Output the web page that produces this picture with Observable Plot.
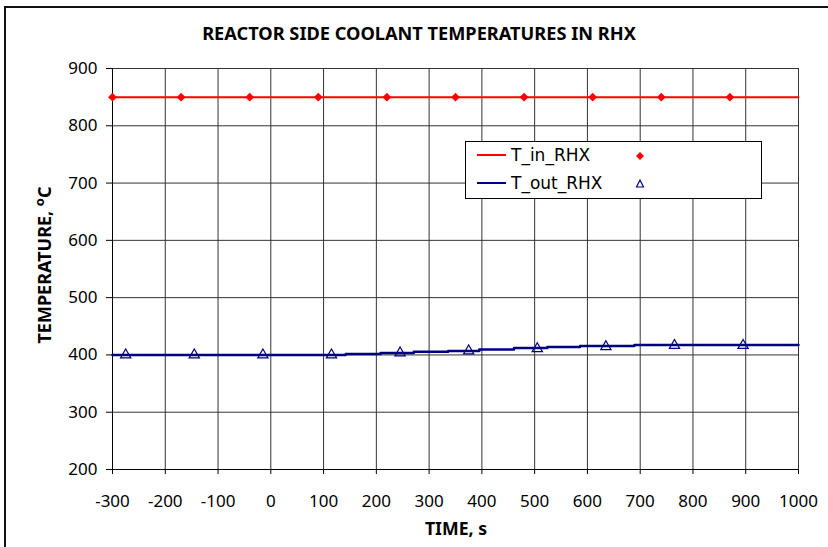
<!DOCTYPE html>
<html><head><meta charset="utf-8">
<script src="https://cdn.jsdelivr.net/npm/d3@7"></script>
<script src="https://cdn.jsdelivr.net/npm/@observablehq/plot@0.6"></script>
<style>
body{margin:0;background:#fff;}
#wrap{position:relative;width:828px;height:547px;overflow:hidden;font-family:"Noto Sans",sans-serif;color:#000;}
#border{position:absolute;left:4px;top:6px;width:840px;height:580px;border:2px solid #111;box-sizing:border-box;pointer-events:none;}
#chart{position:absolute;left:0;top:0;}
#title{position:absolute;left:0;width:838px;top:21px;text-align:center;font-weight:bold;font-size:18.2px;line-height:25px;}
#xlabel{position:absolute;left:356px;width:200px;top:516px;text-align:center;font-weight:bold;font-size:17.7px;line-height:25px;}
#ylabel{position:absolute;left:45px;top:265px;transform:translate(-50%,-50%) rotate(-90deg);white-space:nowrap;font-weight:bold;font-size:18px;line-height:25px;}
#ylabel .sup{position:relative;top:-7px;font-size:13px;}
#legend{position:absolute;left:465px;top:141px;width:297px;height:58px;border:1px solid #000;background:#fff;box-sizing:border-box;font-family:"DejaVu Sans",sans-serif;font-size:17px;}
.row{position:absolute;left:0;height:20px;width:100%;}
.sw{position:absolute;left:11px;top:7px;width:29px;height:0;border-top:2px solid;}
.lab{position:absolute;left:45px;top:-2px;line-height:20px;}
.mk{position:absolute;left:168px;top:-1px;}
</style></head>
<body>
<div id="wrap">
  <div id="chart"></div>
  <div id="border"></div>
  <div id="title"></div>
  <div id="xlabel"></div>
  <div id="ylabel"></div>
  <div id="legend"></div>
</div>
<script>
// ---- data ----
const titleText = "REACTOR SIDE COOLANT TEMPERATURES IN RHX";
const xLabelText = "TIME, s";
const yLabelMain = "TEMPERATURE, ";
const yLabelSup = "o";
const yLabelUnit = "C";
const seriesNames = ["T_in_RHX", "T_out_RHX"];
const xTicks = [-300,-200,-100,0,100,200,300,400,500,600,700,800,900,1000];
const yTicks = [200,300,400,500,600,700,800,900];

const tInTime = [-300, 1000];
const tInTemp = [850, 850];
const tInMarkTime = [-300,-170,-40,90,220,350,480,610,740,870];
const tInMarkTemp = [850,850,850,850,850,850,850,850,850,850];

const tOutTime = [-300,142,208,271,336,395,461,524,586,689,1000];
const tOutTemp = [400,401.5,403.5,405.5,407,409.5,412,414,415.5,417.5,417.5];
const tOutMarkTime = [-275,-145,-15,115,245,375,505,635,765,895];
const tOutMarkTemp = [400,400,400,400,403.5,407,411,414.5,416.5,416.5];

const colors = ["#ff0000", "#000080"];

// ---- build ----
const zip = (xs, ys) => xs.map((x, i) => ({x, y: ys[i]}));
const inLine = zip(tInTime, tInTemp);
const inMarks = zip(tInMarkTime, tInMarkTemp);
const outLine = zip(tOutTime, tOutTemp);
const outMarks = zip(tOutMarkTime, tOutMarkTemp);

const chart = Plot.plot({
  width: 828, height: 547,
  marginLeft: 112, marginRight: 30, marginTop: 68, marginBottom: 78,
  style: {fontFamily: '"Noto Sans", sans-serif', fontSize: "17px", color: "#000", background: "transparent"},
  x: {domain: [-300, 1000]},
  y: {domain: [200, 900]},
  marks: [
    Plot.gridX(xTicks, {stroke: "#333", strokeOpacity: 1, strokeWidth: 1}),
    Plot.gridY(yTicks, {stroke: "#333", strokeOpacity: 1, strokeWidth: 1}),
    Plot.axisX({ticks: xTicks, tickSize: 5, tickPadding: 20.5, label: null, fontSize: 17, tickFormat: d => String(d)}),
    Plot.axisY({ticks: yTicks, tickSize: 6, tickPadding: 9, label: null, fontSize: 17}),
    Plot.ruleX([-300], {stroke: "#000", strokeWidth: 1}),
    Plot.ruleY([200], {stroke: "#000", strokeWidth: 1}),
    Plot.line(inLine, {x: "x", y: "y", stroke: colors[0], strokeWidth: 2}),
    Plot.line(outLine, {x: "x", y: "y", stroke: colors[1], strokeWidth: 2.5, curve: "step-after"}),
    Plot.dot(inMarks, {x: "x", y: "y", symbol: "diamond2", r: 4, fill: colors[0], stroke: "none"}),
    Plot.dot(outMarks, {x: "x", y: "y", symbol: "triangle", r: 3.8, fill: "none", stroke: colors[1], strokeWidth: 1.2})
  ]
});
document.getElementById("chart").appendChild(chart);

document.getElementById("title").textContent = titleText;
document.getElementById("xlabel").textContent = xLabelText;
const yl = document.getElementById("ylabel");
yl.appendChild(document.createTextNode(yLabelMain));
const sup = document.createElement("span");
sup.className = "sup";
sup.textContent = yLabelSup;
yl.appendChild(sup);
yl.appendChild(document.createTextNode(yLabelUnit));

const legend = document.getElementById("legend");
const markSvg = [
  '<svg width="12" height="20"><path d="M6,6 L10,10 L6,14 L2,10 Z" fill="' + colors[0] + '"/></svg>',
  '<svg width="12" height="20"><path d="M6,6 L9.5,13 L2.5,13 Z" fill="none" stroke="' + colors[1] + '" stroke-width="1.2"/></svg>'
];
seriesNames.forEach((name, i) => {
  const row = document.createElement("div");
  row.className = "row";
  row.style.top = (5 + i * 28) + "px";
  row.innerHTML = '<div class="sw" style="border-color:' + colors[i] + '"></div><div class="lab"></div><div class="mk">' + markSvg[i] + '</div>';
  row.querySelector(".lab").textContent = name;
  legend.appendChild(row);
});
</script>
</body></html>
